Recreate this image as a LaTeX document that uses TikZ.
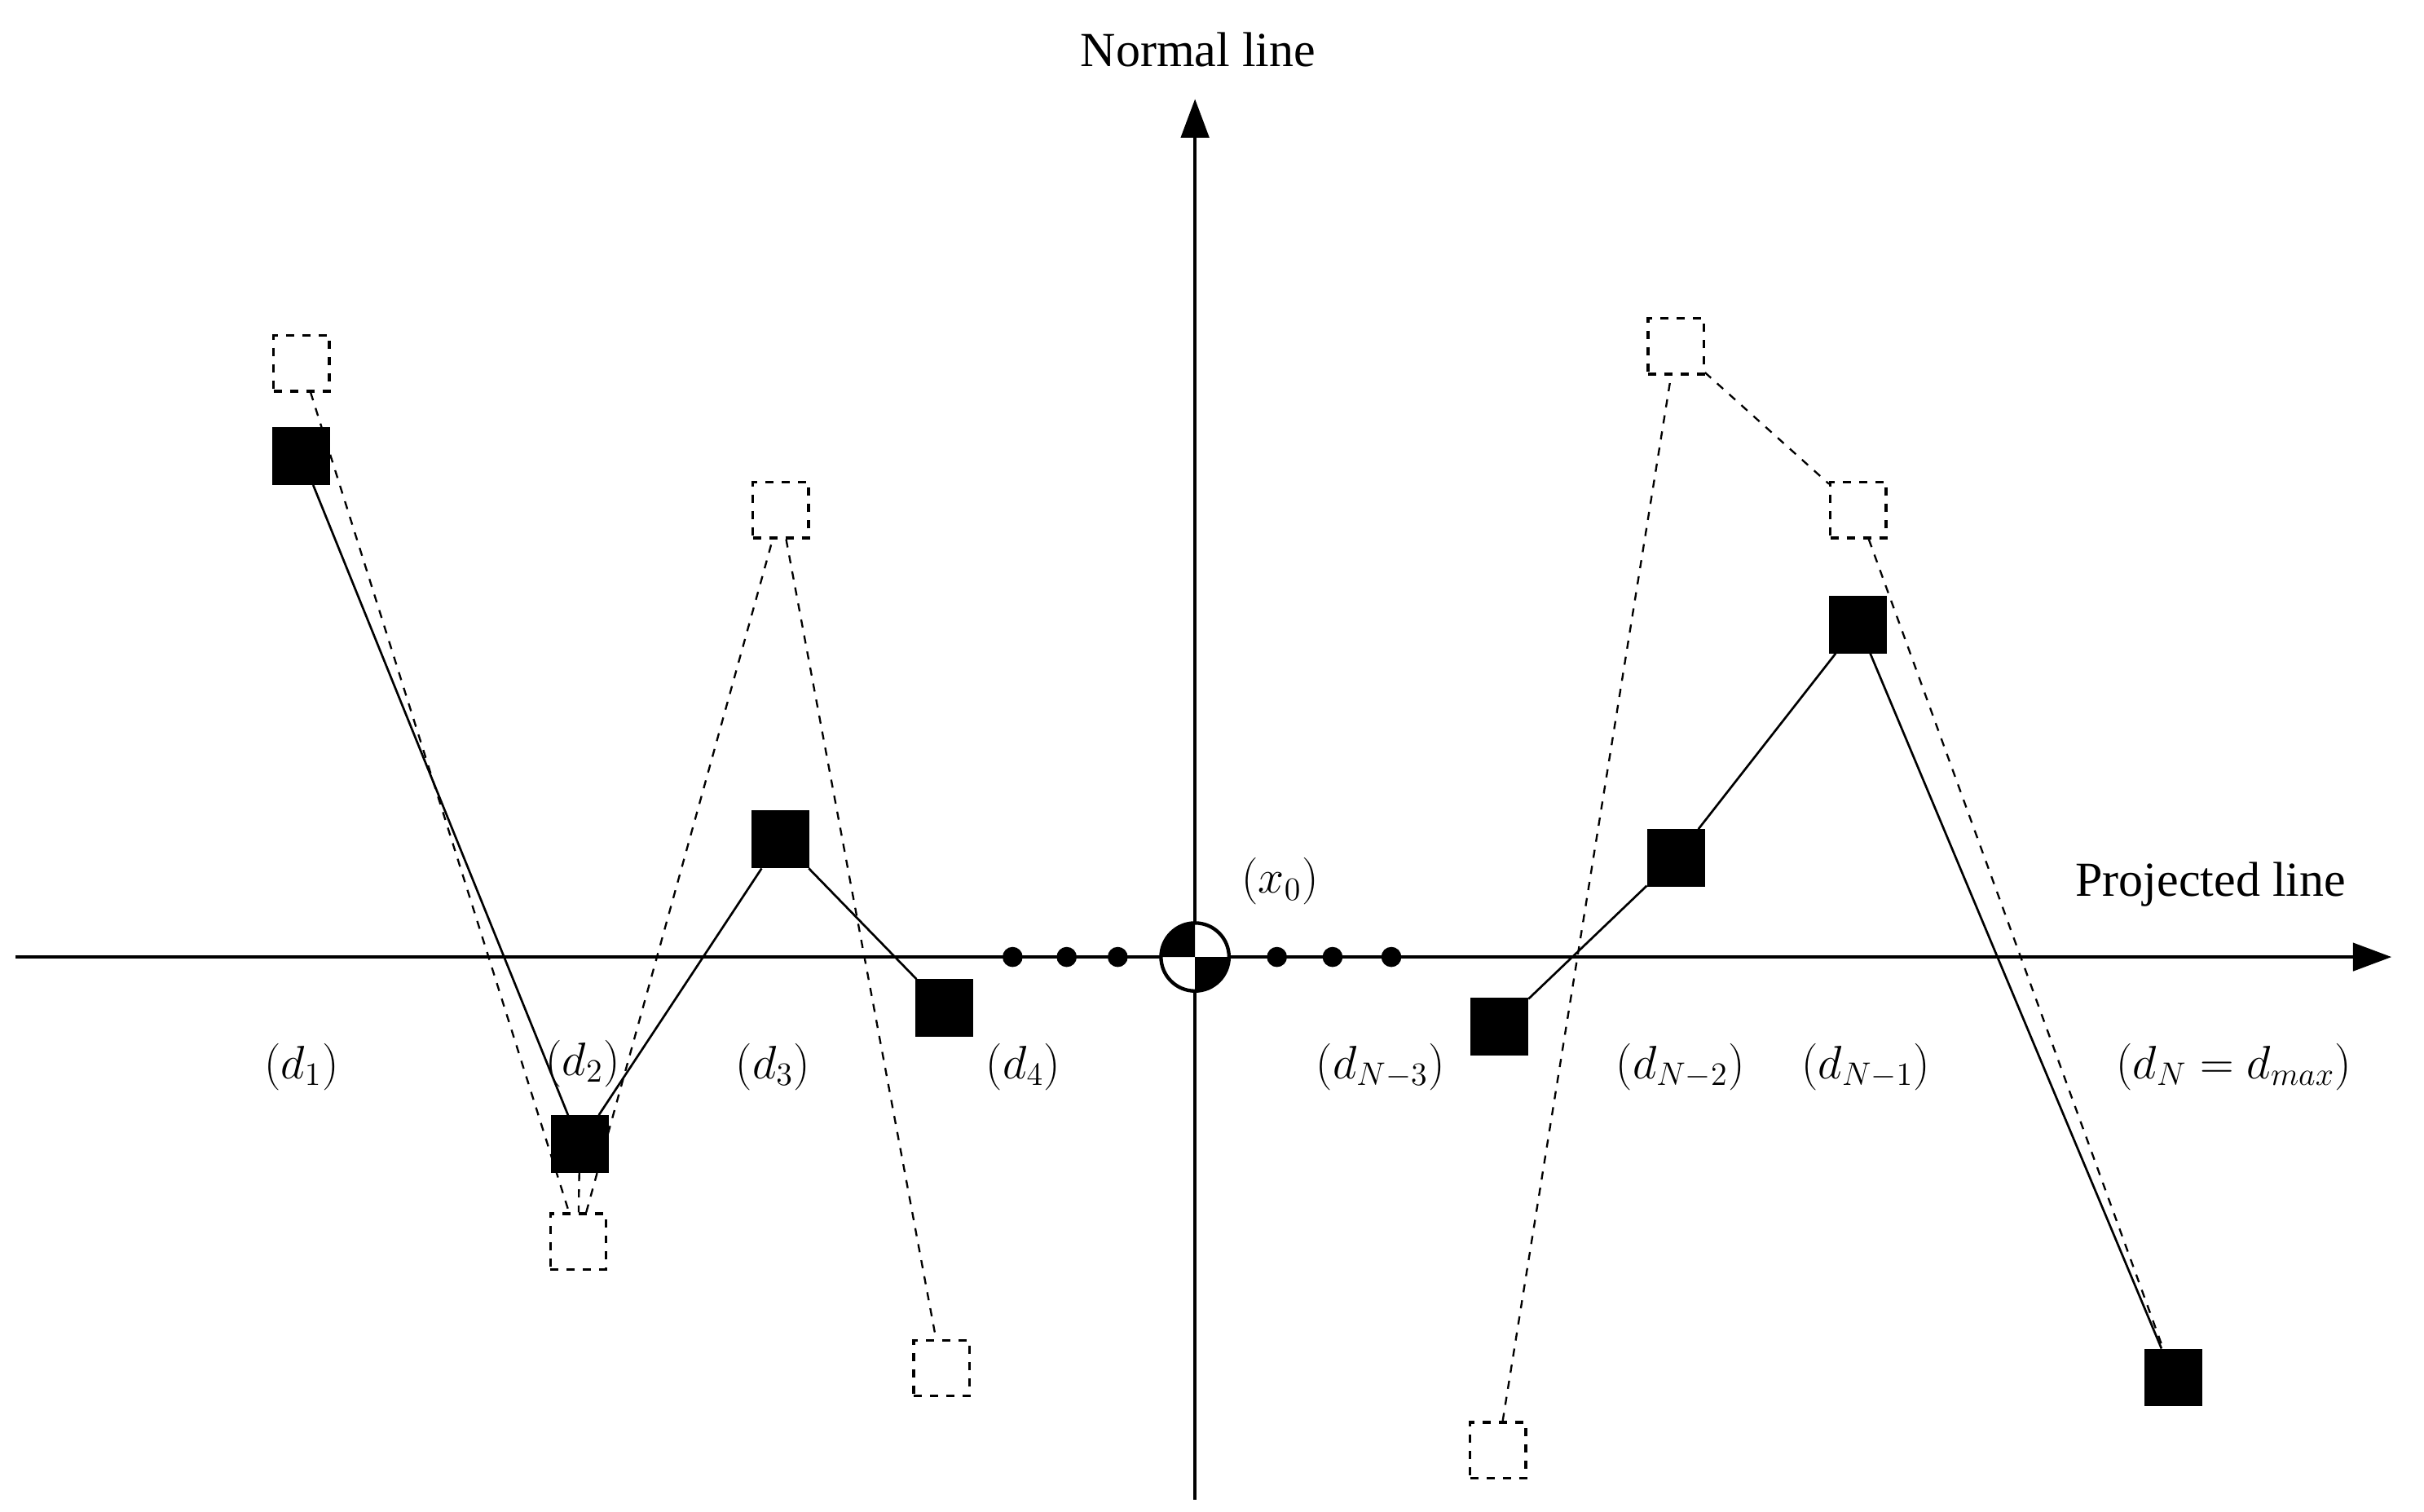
\documentclass[tikz,border=0pt]{standalone}
\usepackage{fontspec}
\setmainfont{Liberation Serif}
\usetikzlibrary{arrows.meta}
\begin{document}
\begin{tikzpicture}[x=0.02cm,y=-0.02cm,
  fsq/.style={draw,fill=black,minimum size=0.72cm,inner sep=0,line width=0.8pt},
  dsq/.style={draw,dashed,fill=white,minimum size=0.72cm,inner sep=0,line width=1pt},
  dot/.style={circle,fill=black,inner sep=0,minimum size=0.26cm},
  lab/.style={font=\fontsize{18}{20}\selectfont},
  axis/.style={line width=1.3pt,-{Triangle[length=0.5cm,width=0.36cm]}}]
\useasboundingbox (0,0) rectangle (1568,978);
% axes
\coordinate (xl) at (10,619); \coordinate (xr) at (1547,619);
\coordinate (yb) at (773,970); \coordinate (yt) at (773,64);
\draw[axis] (xl) -- (xr);
\draw[axis] (yb) -- (yt);
\node[lab] (nl) at (775,32) {Normal line};
\node[lab] (pl) at (1430,572) {Projected line};
\node[lab] (x0) at (828,570) {$(x_0)$};
% origin
\coordinate (o) at (773,619);
\fill[white] (o) circle (0.44cm);
\fill[black] (o) -- ++(180:0.44cm) arc (180:90:0.44cm) -- cycle;
\fill[black] (o) -- ++(0:0.44cm) arc (0:-90:0.44cm) -- cycle;
\draw[line width=1.3pt] (o) circle (0.44cm);
\foreach \x/\n in {655/a,690/b,723/c,826/d,862/e,900/f} \node[dot] (dot\n) at (\x,619) {};
% dashed squares
\node[dsq] (e1) at (195,235) {};
\node[dsq] (e2) at (374,803) {};
\node[dsq] (e3) at (505,330) {};
\node[dsq] (e4) at (609,885) {};
\node[dsq] (e5) at (969,938) {};
\node[dsq] (e6) at (1084,224) {};
\node[dsq] (e7) at (1202,330) {};
% filled squares
\node[fsq] (f1) at (195,295) {};
\node[fsq] (f2) at (375,740) {};
\node[fsq] (f3) at (505,543) {};
\node[fsq] (f4) at (611,652) {};
\node[fsq] (f5) at (970,664) {};
\node[fsq] (f6) at (1084,555) {};
\node[fsq] (f7) at (1202,404) {};
\node[fsq] (f8) at (1406,891) {};
% connectors
\draw[dashed,line width=0.7pt] (e1) -- (e2) -- (e3) -- (e4);
\draw[dashed,line width=0.7pt] (e5) -- (e6) -- (e7) -- (f8);
\draw[dashed,line width=0.7pt] (f2) -- (e2);
\draw[line width=0.8pt] (f1) -- (f2) -- (f3) -- (f4);
\draw[line width=0.8pt] (f5) -- (f6) -- (f7) -- (f8);
% labels
\node[lab] (l1) at (195,690) {$(d_1)$};
\node[lab] (l2) at (377,688) {$(d_2)$};
\node[lab] (l3) at (500,690) {$(d_3)$};
\node[lab] (l4) at (662,690) {$(d_4)$};
\node[lab] (l5) at (893,690) {$(d_{N-3})$};
\node[lab] (l6) at (1087,690) {$(d_{N-2})$};
\node[lab] (l7) at (1207,690) {$(d_{N-1})$};
\node[lab] (l8) at (1445,690) {$(d_N = d_{max})$};
\end{tikzpicture}
\end{document}
